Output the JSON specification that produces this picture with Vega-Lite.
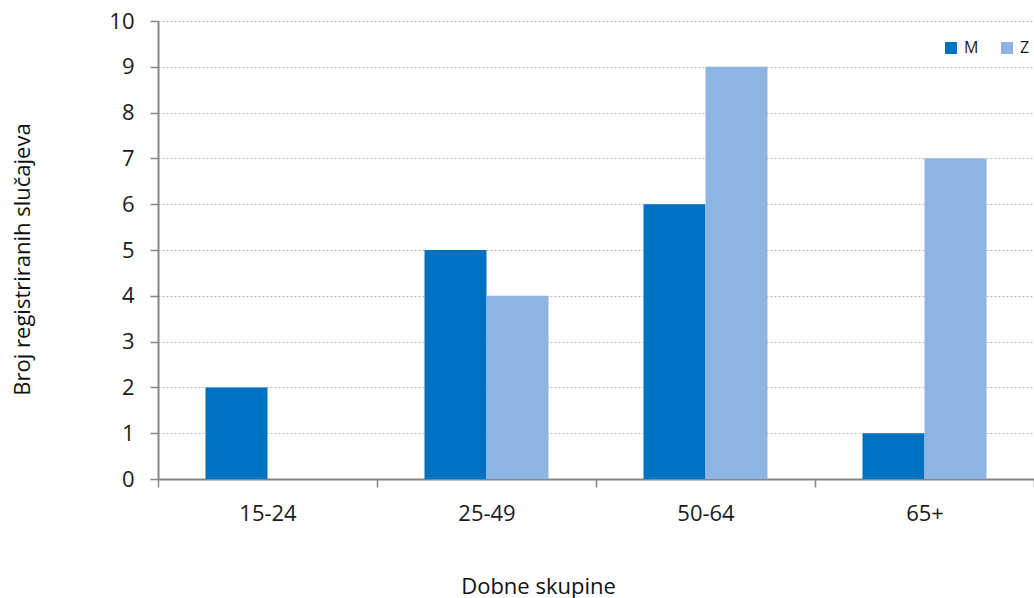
{
  "$schema": "https://vega.github.io/schema/vega-lite/v6.json",
  "width": 876,
  "height": 458,
  "autosize": "none",
  "padding": {"left": 158, "top": 21, "right": 0, "bottom": 119},
  "background": "white",
  "config": {
    "font": "Open Sans",
    "view": {"stroke": null}
  },
  "data": {
    "values": [
      {"skupina": "15-24", "spol": "M", "broj": 2},
      {"skupina": "15-24", "spol": "Z", "broj": 0},
      {"skupina": "25-49", "spol": "M", "broj": 5},
      {"skupina": "25-49", "spol": "Z", "broj": 4},
      {"skupina": "50-64", "spol": "M", "broj": 6},
      {"skupina": "50-64", "spol": "Z", "broj": 9},
      {"skupina": "65+", "spol": "M", "broj": 1},
      {"skupina": "65+", "spol": "Z", "broj": 7}
    ]
  },
  "mark": {"type": "bar"},
  "encoding": {
    "x": {
      "field": "skupina",
      "type": "nominal",
      "sort": ["15-24", "25-49", "50-64", "65+"],
      "scale": {"paddingInner": 0, "paddingOuter": 0},
      "axis": {
        "title": "Dobne skupine",
        "titleFont": "Open Sans",
        "titleFontSize": 22,
        "titleFontWeight": "normal",
        "titleColor": "#111111",
        "titleX": 380,
        "titleY": 107,
        "titleAnchor": null,
        "titleAlign": "center",
        "titleBaseline": "middle",
        "labelAngle": 0,
        "labelFontSize": 22,
        "labelColor": "#1a1a1a",
        "labelPadding": 16,
        "tickBand": "extent",
        "tickSize": 8,
        "tickColor": "#868686",
        "tickWidth": 1.5,
        "domainColor": "#868686",
        "domainWidth": 2,
        "grid": false
      }
    },
    "xOffset": {
      "field": "spol",
      "type": "nominal",
      "sort": ["M", "Z"],
      "scale": {"paddingInner": 0, "paddingOuter": 0.766}
    },
    "y": {
      "field": "broj",
      "type": "quantitative",
      "scale": {"domain": [0, 10], "nice": false},
      "axis": {
        "title": "Broj registriranih slučajeva",
        "titleFont": "Open Sans",
        "titleFontSize": 22,
        "titleFontWeight": "normal",
        "titleColor": "#111111",
        "titleAngle": -90,
        "titleX": -136,
        "titleY": 238,
        "titleAlign": "center",
        "titleBaseline": "middle",
        "values": [0, 1, 2, 3, 4, 5, 6, 7, 8, 9, 10],
        "labelFontSize": 22,
        "labelColor": "#1a1a1a",
        "labelPadding": 16,
        "tickSize": 8,
        "tickColor": "#868686",
        "tickWidth": 1.5,
        "domainColor": "#868686",
        "domainWidth": 2,
        "grid": true,
        "gridColor": "#b4b4b4",
        "gridDash": [2, 2],
        "gridWidth": 1
      }
    },
    "color": {
      "field": "spol",
      "type": "nominal",
      "sort": ["M", "Z"],
      "scale": {"domain": ["M", "Z"], "range": ["#0070C0", "#8DB4E2"]},
      "legend": {
        "title": null,
        "orient": "none",
        "legendX": 785,
        "legendY": 19,
        "direction": "horizontal",
        "symbolType": "square",
        "symbolSize": 144,
        "symbolStrokeWidth": 0,
        "labelFontSize": 16,
        "labelColor": "#1a1a1a",
        "labelOffset": 5,
        "columnPadding": 20
      }
    }
  }
}
